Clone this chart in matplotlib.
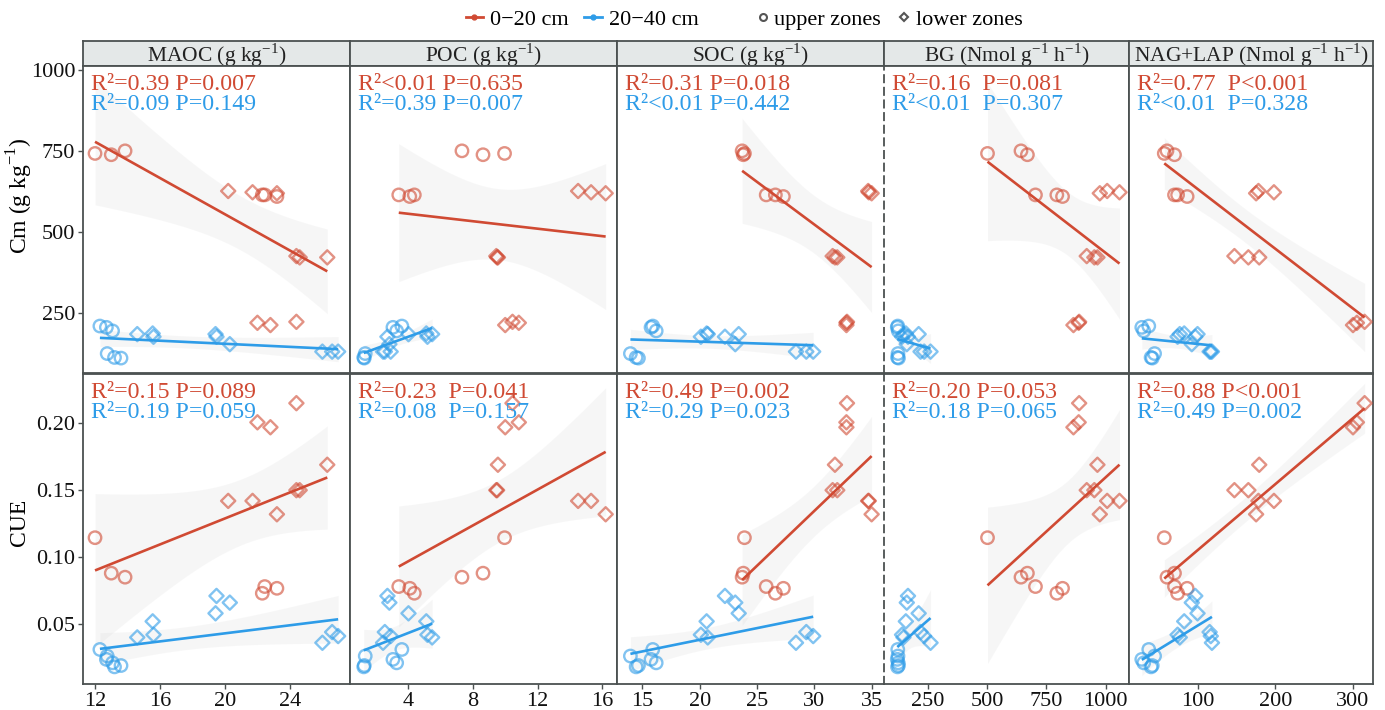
# Cm and CUE against soil carbon fractions and enzyme activities, two soil depths

import numpy as np
import matplotlib.pyplot as plt
from matplotlib.lines import Line2D

plt.rcParams['font.family'] = ['Liberation Serif', 'DejaVu Serif']
plt.rcParams['mathtext.fontset'] = 'custom'
plt.rcParams['mathtext.rm'] = 'Liberation Serif'

# 0-20 cm samples (o = upper zones, D = lower zones)
zone_020 = ['o', 'o', 'o', 'o', 'o', 'o', 'D', 'D', 'D', 'D', 'D', 'D', 'D', 'D', 'D']
maoc_020 = [12.0, 13.0, 13.85, 22.45, 22.3, 23.2, 24.4, 24.6, 26.3, 20.2, 21.7, 23.2, 22.0, 22.8, 24.4]
poc_020 = [9.96, 8.63, 7.33, 3.43, 4.39, 4.11, 9.45, 9.5, 9.55, 14.5, 15.3, 16.2, 10.84, 10.0, 10.45]
soc_020 = [23.9, 23.8, 23.7, 25.8, 26.6, 27.3, 31.6, 32.0, 31.8, 34.7, 34.75, 35.0, 32.8, 32.8, 32.85]
bg_020 = [502, 670, 643, 704, 794, 818, 920, 952, 965, 1006, 1058, 975, 886, 864, 888]
nag_020 = [56.5, 69.7, 60, 69.7, 73.7, 86, 147, 165, 179, 178, 198, 175, 305, 300, 315]
cm_020 = [742, 738, 750, 614, 614, 609, 425, 421, 421, 626, 622, 619, 219, 212, 222]
cue_020 = [0.1145, 0.088, 0.085, 0.078, 0.073, 0.0767, 0.150, 0.150, 0.169,
           0.142, 0.142, 0.132, 0.2007, 0.197, 0.215]

# 20-40 cm samples
zone_2040 = ['o', 'o', 'o', 'o', 'o', 'o', 'D', 'D', 'D', 'D', 'D', 'D', 'D', 'D', 'D']
maoc_2040 = [12.3, 12.7, 13.08, 12.75, 13.2, 13.6, 14.6, 15.55, 15.6, 19.42, 19.48, 20.3, 26.0, 26.6, 26.97]
poc_2040 = [3.62, 3.07, 3.3, 1.36, 1.27, 1.3, 5.49, 5.13, 5.2, 4.03, 2.73, 2.85, 2.46, 2.57, 2.93]
soc_2040 = [15.9, 15.75, 16.2, 13.95, 14.45, 14.65, 20.7, 20.6, 20.1, 23.4, 22.2, 23.1, 28.4, 29.3, 29.9]
bg_2040 = [124, 122, 126, 125, 123, 127, 148, 158, 142, 212, 167, 162, 262, 220, 235]
nag_2040 = [36.5, 27.5, 30, 44, 39.5, 41, 76.5, 82.2, 73.7, 99.4, 96.5, 92, 118, 115, 116.5]
cm_2040 = [209, 205, 194, 124, 112, 110, 184, 186, 176, 184, 176, 153, 130, 130, 130]
cue_2040 = [0.031, 0.0236, 0.021, 0.0261, 0.018, 0.019, 0.040, 0.052, 0.042,
            0.058, 0.071, 0.066, 0.036, 0.044, 0.041]

strip_labels = ['MAOC (g kg$^{\\mathrm{-1}}$)', 'POC (g kg$^{\\mathrm{-1}}$)', 'SOC (g kg$^{\\mathrm{-1}}$)',
                'BG (Nmol g$^{\\mathrm{-1}}$ h$^{\\mathrm{-1}}$)', 'NAG+LAP (Nmol g$^{\\mathrm{-1}}$ h$^{\\mathrm{-1}}$)']
x_ticks = [[12, 16, 20, 24], [4, 8, 12, 16], [15, 20, 25, 30, 35], [250, 500, 750, 1000], [100, 200, 300]]
x_lims = [(11.26, 27.7), (0.42, 16.9), (12.78, 36.08), (66, 1098), (11, 325.8)]

stats_cm_020 = ['R²=0.39 P=0.007', 'R²<0.01 P=0.635', 'R²=0.31 P=0.018', 'R²=0.16  P=0.081', 'R²=0.77  P<0.001']
stats_cm_2040 = ['R²=0.09 P=0.149', 'R²=0.39 P=0.007', 'R²<0.01 P=0.442', 'R²<0.01  P=0.307', 'R²<0.01  P=0.328']
stats_cue_020 = ['R²=0.15 P=0.089', 'R²=0.23  P=0.041', 'R²=0.49 P=0.002', 'R²=0.20 P=0.053', 'R²=0.88 P<0.001']
stats_cue_2040 = ['R²=0.19 P=0.059', 'R²=0.08  P=0.157', 'R²=0.29 P=0.023', 'R²=0.18 P=0.065', 'R²=0.49 P=0.002']

RED = '#d04a33'
BLUE = '#2e9ce8'
EDGE = '#4b5151'

W, H = 1385, 710
fig = plt.figure(figsize=(W / 100, H / 100), dpi=100)


def px_axes(l, t, r, b):
    return fig.add_axes([l / W, 1 - b / H, (r - l) / W, (b - t) / H])


def add_fit(ax, x, y, color):
    x = np.asarray(x, float)
    y = np.asarray(y, float)
    slope, icpt = np.polyfit(x, y, 1)
    xs = np.linspace(x.min(), x.max(), 100)
    yh = icpt + slope * xs
    n = len(x)
    s = np.sqrt(np.sum((y - (icpt + slope * x)) ** 2) / (n - 2))
    sxx = np.sum((x - x.mean()) ** 2)
    se = s * np.sqrt(1 / n + (xs - x.mean()) ** 2 / sxx)
    ax.fill_between(xs, yh - 2.160 * se, yh + 2.160 * se, color='#cfcfcf', alpha=0.17, lw=0, zorder=1)
    return xs, yh


def add_points(ax, x, y, zones, color):
    for z, size in (('o', 80), ('D', 52)):
        idx = [i for i, zz in enumerate(zones) if zz == z]
        ax.scatter([x[i] for i in idx], [y[i] for i in idx], marker=z, s=size,
                   facecolors='none', edgecolors=color, linewidths=1.7, alpha=0.6, zorder=3)


col_edges = [83, 350, 617, 884, 1129, 1373]
rows = [(66, 373), (374, 684)]
xs_020 = [maoc_020, poc_020, soc_020, bg_020, nag_020]
xs_2040 = [maoc_2040, poc_2040, soc_2040, bg_2040, nag_2040]
ys_020 = [cm_020, cue_020]
ys_2040 = [cm_2040, cue_2040]
y_lims = [(64, 1012), (0.0052, 0.2368)]
y_ticks = [[250, 500, 750, 1000], [0.05, 0.10, 0.15, 0.20]]
y_ticklabels = [['250', '500', '750', '1000'], ['0.05', '0.10', '0.15', '0.20']]
stats_020 = [stats_cm_020, stats_cue_020]
stats_2040 = [stats_cm_2040, stats_cue_2040]

for c in range(5):
    l, r = col_edges[c], col_edges[c + 1]
    # facet strip
    sax = px_axes(l, 41, r, 66)
    sax.set_facecolor('#e4e8e8')
    sax.set_xticks([])
    sax.set_yticks([])
    for sp in sax.spines.values():
        sp.set_color(EDGE)
        sp.set_linewidth(1.3)
    sax.text(0.5, 0.45, strip_labels[c], ha='center', va='center', fontsize=15.5, color='#222222',
             transform=sax.transAxes)

    for rw in range(2):
        t, b = rows[rw]
        ax = px_axes(l, t, r, b)
        fx_r, fy_r = add_fit(ax, xs_020[c], ys_020[rw], RED)
        fx_b, fy_b = add_fit(ax, xs_2040[c], ys_2040[rw], BLUE)
        add_points(ax, xs_020[c], ys_020[rw], zone_020, RED)
        add_points(ax, xs_2040[c], ys_2040[rw], zone_2040, BLUE)
        ax.plot(fx_r, fy_r, color=RED, lw=1.9, zorder=4, solid_capstyle='butt')
        ax.plot(fx_b, fy_b, color=BLUE, lw=1.9, zorder=4, solid_capstyle='butt')

        ax.set_xlim(*x_lims[c])
        ax.set_ylim(*y_lims[rw])
        ax.set_xticks(x_ticks[c])
        ax.set_yticks(y_ticks[rw])
        for sp in ax.spines.values():
            sp.set_color(EDGE)
            sp.set_linewidth(1.3)
        if c == 2:
            ax.spines['right'].set_visible(False)
        if c == 3:
            ax.spines['left'].set_linestyle((0, (4, 3)))
        ax.tick_params(axis='both', color=EDGE, width=1, length=3.5, labelsize=16, pad=2,
                       labelcolor='#111111')
        if rw == 0:
            ax.tick_params(axis='x', length=0, labelbottom=False)
        else:
            ax.set_xticklabels([str(v) for v in x_ticks[c]])
        if c == 0:
            ax.set_yticklabels(y_ticklabels[rw])
        else:
            ax.tick_params(axis='y', length=0, labelleft=False)

        ax.annotate(stats_020[rw][c], xy=(0, 1), xycoords='axes fraction', xytext=(6, -17.5),
                    textcoords='offset points', ha='left', va='baseline', fontsize=17.2, color=RED)
        ax.annotate(stats_2040[rw][c], xy=(0, 1), xycoords='axes fraction', xytext=(6, -31.5),
                    textcoords='offset points', ha='left', va='baseline', fontsize=17.2, color=BLUE)

fig.text(20 / W, 1 - 196 / H, 'Cm (g kg$^{\\mathrm{-1}}$)', rotation=90, ha='center', va='center', fontsize=17)
fig.text(20 / W, 1 - 522 / H, 'CUE', rotation=90, ha='center', va='center', fontsize=17)

# depth legend and zone legend, side by side above the panels
depth_handles = [
    Line2D([], [], color=RED, lw=2, marker='o', markersize=3.5),
    Line2D([], [], color=BLUE, lw=2, marker='o', markersize=3.5),
]
zone_handles = [
    Line2D([], [], color='#555555', ls='none', marker='o', markersize=5, mfc='none', mew=1.5),
    Line2D([], [], color='#555555', ls='none', marker='D', markersize=4.5, mfc='none', mew=1.5),
]
fig.legend(depth_handles, ['0\u221220 cm', '20\u221240 cm'], loc='center',
           bbox_to_anchor=(582 / W, 1 - 20 / H), ncol=2, frameon=False, fontsize=16,
           handlelength=0.8, handletextpad=0.3, columnspacing=0.7)
fig.legend(zone_handles, ['upper zones', 'lower zones'], loc='center',
           bbox_to_anchor=(890 / W, 1 - 20 / H), ncol=2, frameon=False, fontsize=16,
           handlelength=0.5, handletextpad=0.25, columnspacing=0.8)

fig.savefig('out.png', dpi=100)
